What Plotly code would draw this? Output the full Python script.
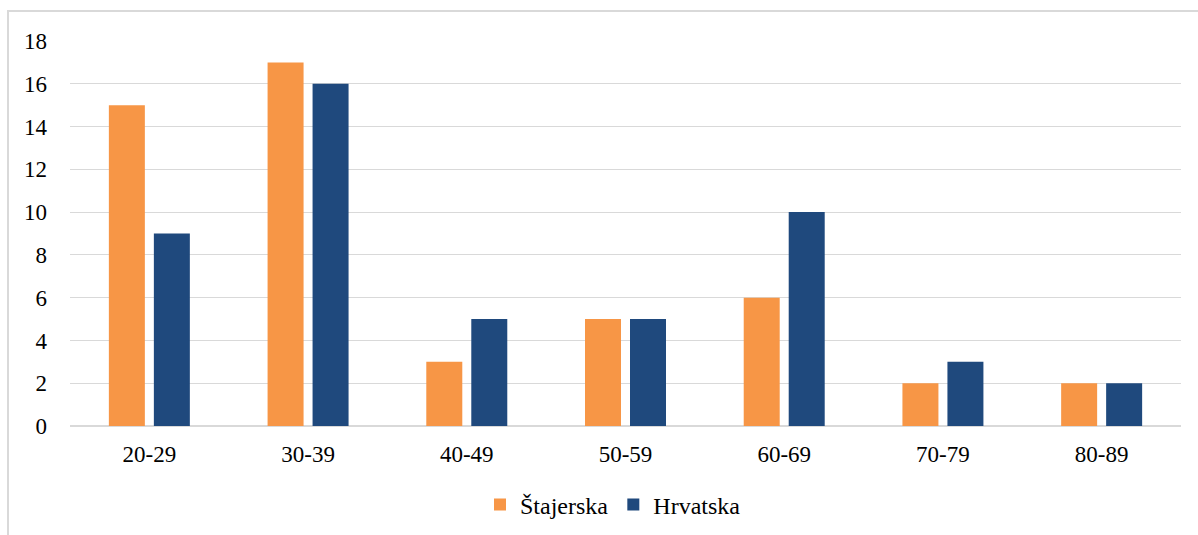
import plotly.graph_objects as go

# podatki
kategorije = ["20-29", "30-39", "40-49", "50-59", "60-69", "70-79", "80-89"]
stajerska = [15, 17, 3, 5, 6, 2, 2]
hrvatska = [9, 16, 5, 5, 10, 3, 2]
y_ticks = [0, 2, 4, 6, 8, 10, 12, 14, 16, 18]

ORANGE = "#F79646"
BLUE = "#1F497D"
GRID = "#D9D9D9"
FONT = "Liberation Serif"

fig = go.Figure()
fig.add_trace(go.Bar(x=kategorije, y=stajerska, name="Štajerska",
                     marker=dict(color=ORANGE, line=dict(width=0))))
fig.add_trace(go.Bar(x=kategorije, y=hrvatska, name="Hrvatska",
                     marker=dict(color=BLUE, line=dict(width=0))))

W, H = 1198, 535
L, R, T, B = 70, 17, 41, 109
pw, ph = W - L - R, H - T - B

fig.update_layout(
    width=W, height=H,
    margin=dict(l=L, r=R, t=T, b=B, autoexpand=False),
    barmode="group",
    bargap=0.433,
    bargroupgap=0.2,
    plot_bgcolor="white",
    paper_bgcolor="white",
    font=dict(family=FONT, size=23, color="black"),
    legend=dict(orientation="h", x=(480 - L) / pw, xanchor="left",
                y=-(505 - (T + ph)) / ph, yanchor="middle",
                font=dict(size=24), itemwidth=30, tracegroupgap=0),
    # okvir okoli grafa
    shapes=[dict(type="rect", xref="paper", yref="paper",
                 x0=(8 - L) / pw, x1=(1205 - L) / pw,
                 y0=-(545 - (T + ph)) / ph, y1=1 + (T - 11) / ph,
                 line=dict(color=GRID, width=2), layer="below")],
)

fig.update_xaxes(showgrid=False, showline=False, ticks="",
                 tickfont=dict(size=23), ticklabelstandoff=12)
fig.update_yaxes(range=[0, 18], tickvals=y_ticks, showgrid=True,
                 gridcolor=GRID, gridwidth=1.3, zeroline=True,
                 zerolinecolor=GRID, zerolinewidth=1.5,
                 showline=False, ticks="", ticklabelstandoff=22,
                 tickfont=dict(size=23))

fig.write_html("out.html", config={"displayModeBar": False},
               post_script="document.body.style.margin='0';document.body.style.overflow='hidden';")
